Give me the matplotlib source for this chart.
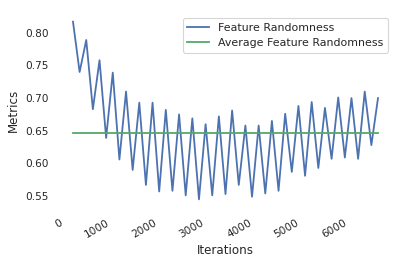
import matplotlib
matplotlib.use("Agg")
import matplotlib.pyplot as plt
import numpy as np

# iterations at which feature randomness was logged
iterations = list(range(190, 190 + 140 * 47, 140))

feature_randomness = [
    0.817, 0.740, 0.789, 0.683, 0.758, 0.639, 0.739, 0.606, 0.710, 0.590,
    0.693, 0.567, 0.693, 0.557, 0.682, 0.558, 0.675, 0.551, 0.669, 0.545,
    0.660, 0.551, 0.672, 0.553, 0.681, 0.567, 0.658, 0.549, 0.658, 0.554,
    0.665, 0.558, 0.676, 0.587, 0.688, 0.581, 0.694, 0.593, 0.685, 0.607,
    0.701, 0.609, 0.700, 0.607, 0.710, 0.628, 0.700,
]

avg_randomness = np.mean(feature_randomness)

text_color = "#262626"
plt.rcParams["text.color"] = text_color
plt.rcParams["axes.labelcolor"] = text_color
plt.rcParams["xtick.color"] = text_color
plt.rcParams["ytick.color"] = text_color

fig, ax = plt.subplots(figsize=(4.06, 2.65), dpi=100)
fig.subplots_adjust(left=0.1422, right=0.9686, top=0.9517, bottom=0.2143)

ax.plot(iterations, feature_randomness, color="#4C72B0", lw=1.3,
        label="Feature Randomness")
ax.plot(iterations, [avg_randomness] * len(iterations), color="#55A868", lw=1.3,
        label="Average Feature Randomness")

ax.set_xlabel("Iterations", fontsize=8.6, labelpad=3)
ax.set_ylabel("Metrics", fontsize=8.6, labelpad=4)

for s in ax.spines.values():
    s.set_visible(False)
ax.tick_params(axis="both", length=0, labelsize=7.6)
ax.tick_params(axis="y", pad=6.5)
ax.tick_params(axis="x", pad=7)
for lbl in ax.get_xticklabels():
    lbl.set_rotation(30)
    lbl.set_ha("right")

leg = ax.legend(loc="upper right", fontsize=7.9, frameon=True)
leg.get_frame().set_edgecolor("#cccccc")
leg.get_frame().set_linewidth(0.8)

fig.savefig("out.png", dpi=100)
